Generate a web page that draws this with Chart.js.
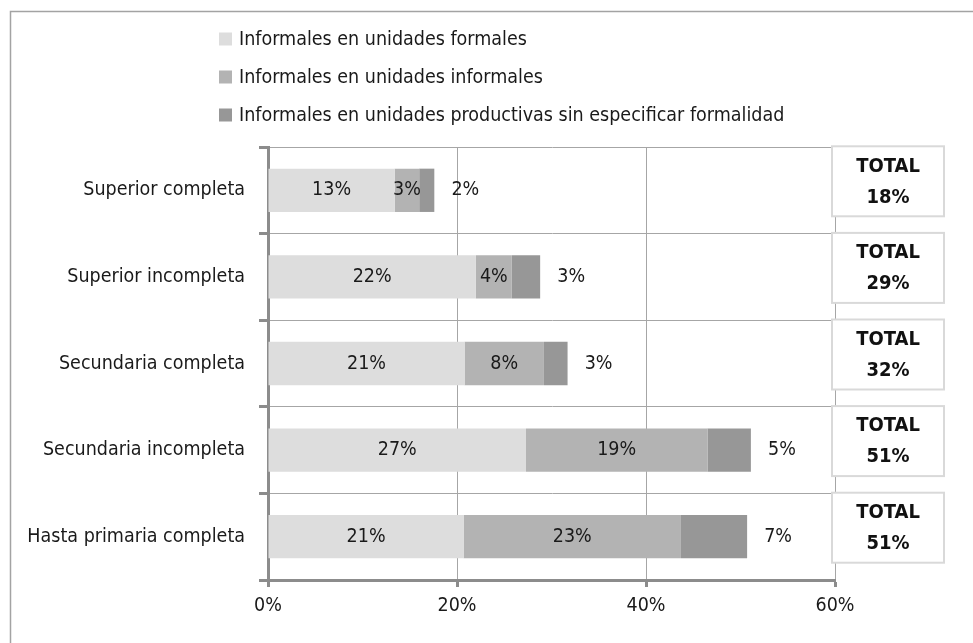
<!DOCTYPE html>
<html>
<head>
<meta charset="utf-8">
<script src="https://cdn.jsdelivr.net/npm/chart.js@4.4.1/dist/chart.umd.min.js"></script>
<style>
  html, body { margin: 0; padding: 0; background: #fff; }
  #wrap { width: 973px; height: 643px; position: relative; }
</style>
</head>
<body>
<div id="wrap"><canvas id="chart"></canvas></div>
<script>
// data (percent)
const categories = ['Superior completa', 'Superior incompleta', 'Secundaria completa', 'Secundaria incompleta', 'Hasta primaria completa']
const seriesNames = ['Informales en unidades formales', 'Informales en unidades informales', 'Informales en unidades productivas sin especificar formalidad']
const enUnidadesFormales = [13.4, 22.0, 20.8, 27.3, 20.7]
const enUnidadesInformales = [2.6, 3.8, 8.4, 19.2, 23.0]
const sinEspecificar = [1.6, 3.0, 2.5, 4.6, 7.0]
const totals = [18, 29, 32, 51, 51]
const xTicks = [0, 20, 40, 60]

const FONT = '"Liberation Sans Narrow", "DejaVu Sans Condensed", "Liberation Sans", sans-serif'
const TEXT = '#1a1a1a'
const GRID = '#a6a6a6'
const AXIS = '#8c8c8c'
const FS = 19.5

// frame, legend, labels and TOTAL boxes
const extras = {
    id: 'extras',
    beforeDraw(chart) {
        const ctx = chart.ctx
        ctx.save()
        ctx.strokeStyle = '#a3a3a3'
        ctx.lineWidth = 1.5
        ctx.beginPath()
        ctx.moveTo(10.5, chart.height)
        ctx.lineTo(10.5, 11.5)
        ctx.lineTo(chart.width, 11.5)
        ctx.stroke()
        ctx.restore()
    },
    afterDatasetsDraw(chart) {
        const ctx = chart.ctx
        ctx.save()
        ctx.font = FS + 'px ' + FONT
        ctx.fillStyle = TEXT
        ctx.textBaseline = 'middle'
        ctx.textAlign = 'center'
        chart.data.datasets.forEach((ds, di) => {
            chart.getDatasetMeta(di).data.forEach((bar, i) => {
                const txt = Math.round(ds.data[i]) + '%'
                if (di < 2) {
                    ctx.fillText(txt, (bar.base + bar.x) / 2, bar.y)
                } else {
                    // last series label sits right of the bar end
                    ctx.fillText(txt, bar.x + 31, bar.y)
                }
            })
        })
        ctx.restore()
    },
    afterDraw(chart) {
        const ctx = chart.ctx
        const area = chart.chartArea
        const yScale = chart.scales.y
        ctx.save()
        // legend, one entry per line
        ctx.font = FS + 'px ' + FONT
        ctx.textAlign = 'left'
        ctx.textBaseline = 'middle'
        chart.data.datasets.forEach((ds, di) => {
            const cy = 39 + di * 38
            ctx.fillStyle = ds.backgroundColor
            ctx.fillRect(219, cy - 6.5, 13, 13)
            ctx.fillStyle = TEXT
            ctx.fillText(ds.label, 239, cy + 1)
        })
        // TOTAL boxes
        totals.forEach((t, i) => {
            const cy = yScale.getPixelForValue(i) - 9
            const x = area.right - 3
            const w = 112
            const h = 70
            ctx.fillStyle = '#fff'
            ctx.fillRect(x, cy - h / 2, w, h)
            ctx.strokeStyle = '#d9d9d9'
            ctx.lineWidth = 2
            ctx.strokeRect(x, cy - h / 2, w, h)
            ctx.fillStyle = '#111'
            ctx.font = 'bold 20px ' + FONT
            ctx.textAlign = 'center'
            ctx.fillText('TOTAL', x + w / 2, cy - 15)
            ctx.fillText(t + '%', x + w / 2, cy + 16)
        })
        ctx.restore()
    }
}

const config = {
    type: 'bar',
    data: {
        labels: categories,
        datasets: [
            { label: seriesNames[0], data: enUnidadesFormales, backgroundColor: '#dddddd' },
            { label: seriesNames[1], data: enUnidadesInformales, backgroundColor: '#b3b3b3' },
            { label: seriesNames[2], data: sinEspecificar, backgroundColor: '#979797' }
        ]
    },
    options: {
        indexAxis: 'y',
        responsive: true,
        maintainAspectRatio: false,
        animation: false,
        barPercentage: 0.5,
        categoryPercentage: 1,
        layout: { padding: { top: 147, right: 138, left: 0, bottom: 0 } },
        plugins: {
            legend: { display: false },
            tooltip: { enabled: false }
        },
        scales: {
            x: {
                stacked: true,
                min: 0,
                max: 60,
                afterBuildTicks: s => { s.ticks = xTicks.map(v => ({ value: v })) },
                afterFit: s => { s.height = 63 },
                ticks: {
                    callback: v => v + '%',
                    font: { family: FONT, size: FS },
                    color: TEXT,
                    padding: 7
                },
                grid: { color: GRID, lineWidth: 1, tickLength: 7, tickWidth: 3, tickColor: AXIS },
                border: { color: AXIS, width: 3 }
            },
            y: {
                stacked: true,
                afterFit: s => { s.width = 268 },
                ticks: {
                    font: { family: FONT, size: FS },
                    color: TEXT,
                    padding: 14
                },
                grid: { color: GRID, lineWidth: 1, tickLength: 9, tickWidth: 3, tickColor: AXIS },
                border: { color: AXIS, width: 3 }
            }
        }
    },
    plugins: [extras]
}

const myChart = new Chart(document.getElementById('chart'), config)
</script>
</body>
</html>
